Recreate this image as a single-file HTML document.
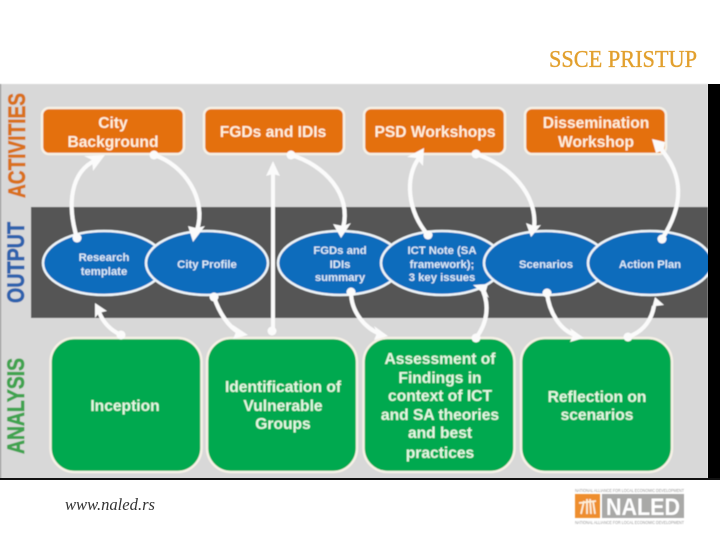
<!DOCTYPE html>
<html>
<head>
<meta charset="utf-8">
<style>
html,body{margin:0;padding:0;background:#fff;width:720px;height:540px;overflow:hidden}
svg{display:block}
.t{font-family:"Liberation Sans",sans-serif;font-weight:bold;text-anchor:middle}
.o{font-size:15.6px;fill:#fff0dc}
.g{font-size:15.6px;fill:#e4f8e4}
.e{font-size:11.3px;fill:#dcebf8}
.side{font-family:"Liberation Sans",sans-serif;font-weight:bold;font-size:24px;stroke-width:0.7px}
.box{stroke:#f6f1e6;stroke-width:2.5}
.ell{fill:#0a6cbc;stroke:#eef4f8;stroke-width:2.5}
.arr{fill:none;stroke:#fbfbfb;stroke-width:4.2}
.h{fill:#fbfbfb}
</style>
</head>
<body>
<svg width="720" height="540" viewBox="0 0 720 540" xmlns="http://www.w3.org/2000/svg">
<defs><filter id="b" x="-2%" y="-2%" width="104%" height="104%"><feGaussianBlur stdDeviation="0.55"/></filter></defs>
<rect width="720" height="540" fill="#fff"/>
<text x="549" y="67" font-family="'Liberation Serif',serif" font-size="24" fill="#e2a02e" stroke="#e2a02e" stroke-width="0.35" textLength="148" lengthAdjust="spacingAndGlyphs">SSCE PRISTUP</text>

<g filter="url(#b)">
<rect x="0" y="84" width="708" height="395" fill="#d8d8d8"/>
<rect x="0" y="84" width="1" height="395" fill="#777"/>
<rect x="31" y="207" width="677" height="111" fill="#555555"/>

<g transform="translate(25,198) rotate(-90)"><text class="side" x="0" y="0" fill="#d9711c" stroke="#d9711c" textLength="105" lengthAdjust="spacingAndGlyphs">ACTIVITIES</text></g>
<g transform="translate(24,303) rotate(-90)"><text class="side" x="0" y="0" fill="#2f62ad" stroke="#2f62ad" textLength="81" lengthAdjust="spacingAndGlyphs">OUTPUT</text></g>
<g transform="translate(24,454) rotate(-90)"><text class="side" x="0" y="0" fill="#41a34f" stroke="#41a34f" textLength="96" lengthAdjust="spacingAndGlyphs">ANALYSIS</text></g>

<!-- orange boxes -->
<rect class="box" x="42" y="108" width="142" height="46" rx="7" fill="#e46f0a"/>
<rect class="box" x="204" y="108" width="140" height="46" rx="7" fill="#e46f0a"/>
<rect class="box" x="364" y="108" width="141" height="46" rx="7" fill="#e46f0a"/>
<rect class="box" x="525" y="108" width="141" height="46" rx="7" fill="#e46f0a"/>
<text class="t o" x="113" y="128">City</text>
<text class="t o" x="113" y="147">Background</text>
<text class="t o" x="273" y="137">FGDs and IDIs</text>
<text class="t o" x="435" y="137">PSD Workshops</text>
<text class="t o" x="596" y="128">Dissemination</text>
<text class="t o" x="596" y="147">Workshop</text>

<!-- green boxes -->
<rect class="box" x="50.5" y="338" width="151" height="134" rx="24" fill="#06a94f"/>
<rect class="box" x="207" y="338" width="150" height="134" rx="24" fill="#06a94f"/>
<rect class="box" x="363.5" y="338" width="151" height="134" rx="24" fill="#06a94f"/>
<rect class="box" x="521" y="338" width="151" height="134" rx="24" fill="#06a94f"/>
<text class="t g" x="125" y="411">Inception</text>
<text class="t g" x="283" y="392">Identification of</text>
<text class="t g" x="283" y="411">Vulnerable</text>
<text class="t g" x="283" y="429">Groups</text>
<text class="t g" x="440" y="364">Assessment of</text>
<text class="t g" x="440" y="383">Findings in</text>
<text class="t g" x="440" y="401">context of ICT</text>
<text class="t g" x="440" y="420">and SA theories</text>
<text class="t g" x="440" y="438">and best</text>
<text class="t g" x="440" y="458">practices</text>
<text class="t g" x="597" y="402">Reflection on</text>
<text class="t g" x="597" y="420">scenarios</text>

<!-- vertical line -->
<rect x="271" y="170" width="4" height="162" fill="#fbfbfb"/>
<path class="h" d="M273 161 L280 176 L273 174 L266 176 Z"/>
<circle class="h" cx="272" cy="331" r="4.5"/>

<!-- ellipses -->
<ellipse class="ell" cx="104" cy="263" rx="61" ry="32"/>
<ellipse class="ell" cx="207" cy="263" rx="61" ry="32"/>
<ellipse class="ell" cx="340" cy="263" rx="62" ry="32"/>
<ellipse class="ell" cx="442" cy="263" rx="61" ry="32"/>
<ellipse class="ell" cx="546" cy="263" rx="62" ry="32"/>
<ellipse class="ell" cx="650" cy="263" rx="62" ry="32"/>
<text class="t e" x="104" y="261">Research</text>
<text class="t e" x="104" y="275">template</text>
<text class="t e" x="207" y="268">City Profile</text>
<text class="t e" x="340" y="254">FGDs and</text>
<text class="t e" x="340" y="268">IDIs</text>
<text class="t e" x="340" y="281">summary</text>
<text class="t e" x="442" y="254">ICT Note (SA</text>
<text class="t e" x="442" y="268">framework);</text>
<text class="t e" x="442" y="281">3 key issues</text>
<text class="t e" x="546" y="268">Scenarios</text>
<text class="t e" x="650" y="268">Action Plan</text>

<!-- arrows -->
<path class="arr" d="M77 238 C67 205,70 172,96 160"/>
<path class="h" d="M105 155 L93 171 L92 160 L84 156 Z"/>
<circle class="h" cx="77" cy="238" r="4.5"/>

<path class="arr" d="M154 155 C185 165,207 200,197 230"/>
<path class="h" d="M193 242 L188 226 L196 228 L205 226 Z"/>
<circle class="h" cx="154" cy="155" r="4.5"/>

<path class="arr" d="M291 155 C325 165,352 195,343 228"/>
<path class="h" d="M341 238 L333 224 L343 226 L351 223 Z"/>
<circle class="h" cx="291" cy="155" r="4.5"/>

<path class="arr" d="M428 235 C408 212,404 178,419 158"/>
<path class="h" d="M424 148 L423 166 L416 158 L407 157 Z"/>
<circle class="h" cx="428" cy="235" r="4.5"/>

<path class="arr" d="M476 154 C510 165,538 195,534 228"/>
<path class="h" d="M531 237 L526 223 L534 226 L541 225 Z"/>
<circle class="h" cx="476" cy="154" r="4.5"/>

<path class="arr" d="M662 239 C684 205,684 175,660 148"/>
<path class="h" d="M652 139 L665 142 L664 150 L656 153 Z"/>
<circle class="h" cx="662" cy="239" r="4.5"/>

<path class="arr" d="M121 335 C110 330,103 322,99 312"/>
<path class="h" d="M95 303 L107 311 L99 313 L95 318 Z"/>
<circle class="h" cx="121" cy="335" r="4.5"/>

<path class="arr" d="M214 297 C219 312,228 327,240 333"/>
<path class="h" d="M248 335 L233 339 L236 332 L233 325 Z"/>
<circle class="h" cx="214" cy="297" r="4.5"/>

<path class="arr" d="M351 292 C351 312,365 328,380 334"/>
<path class="h" d="M388 336 L374 340 L377 333 L374 326 Z"/>
<circle class="h" cx="351" cy="292" r="4.5"/>

<path class="arr" d="M476 338 C488 322,489 305,483 291"/>
<path class="h" d="M473 285 L488 284 L486 291 L489 298 Z"/>
<circle class="h" cx="476" cy="338" r="4.5"/>

<path class="arr" d="M547 293 C549 312,560 330,575 335"/>
<path class="h" d="M584 338 L570 342 L573 335 L570 328 Z"/>
<circle class="h" cx="547" cy="293" r="4.5"/>

<path class="arr" d="M628 337 C645 331,652 318,654 306"/>
<path class="h" d="M655 297 L664 305 L656 306 L651 312 Z"/>
<circle class="h" cx="628" cy="337" r="4.5"/>
</g>

<!-- frame -->
<rect x="708" y="84" width="12" height="395" fill="#000"/>
<rect x="0" y="478" width="720" height="2" fill="#111"/>

<text x="65" y="510" font-family="'Liberation Serif',serif" font-style="italic" font-size="16.5" fill="#333" textLength="90" lengthAdjust="spacingAndGlyphs">www.naled.rs</text>

<!-- logo -->
<g filter="url(#b)">
<rect x="575" y="494" width="25" height="24" fill="#ee8e2d"/>
<path d="M581 514 L584 501 M587 514 L587 499 M591 514 L590 499 M595 514 L593 501 M579 503 L596 501" stroke="#fdf0dc" stroke-width="1.8" fill="none"/>
<rect x="602" y="494" width="82" height="24" fill="#a9a9a7"/>
<text x="643" y="515" font-family="'Liberation Sans',sans-serif" font-weight="bold" font-size="24" fill="#fff" text-anchor="middle" textLength="74" lengthAdjust="spacingAndGlyphs">NALED</text>
<text x="575" y="492" font-family="'Liberation Sans',sans-serif" font-size="4.5" fill="#999" textLength="109" lengthAdjust="spacingAndGlyphs">NATIONAL ALLIANCE FOR LOCAL ECONOMIC DEVELOPMENT</text>
<text x="575" y="524" font-family="'Liberation Sans',sans-serif" font-size="4.5" fill="#999" textLength="109" lengthAdjust="spacingAndGlyphs">NATIONAL ALLIANCE FOR LOCAL ECONOMIC DEVELOPMENT</text>
</g>
</svg>
</body>
</html>
